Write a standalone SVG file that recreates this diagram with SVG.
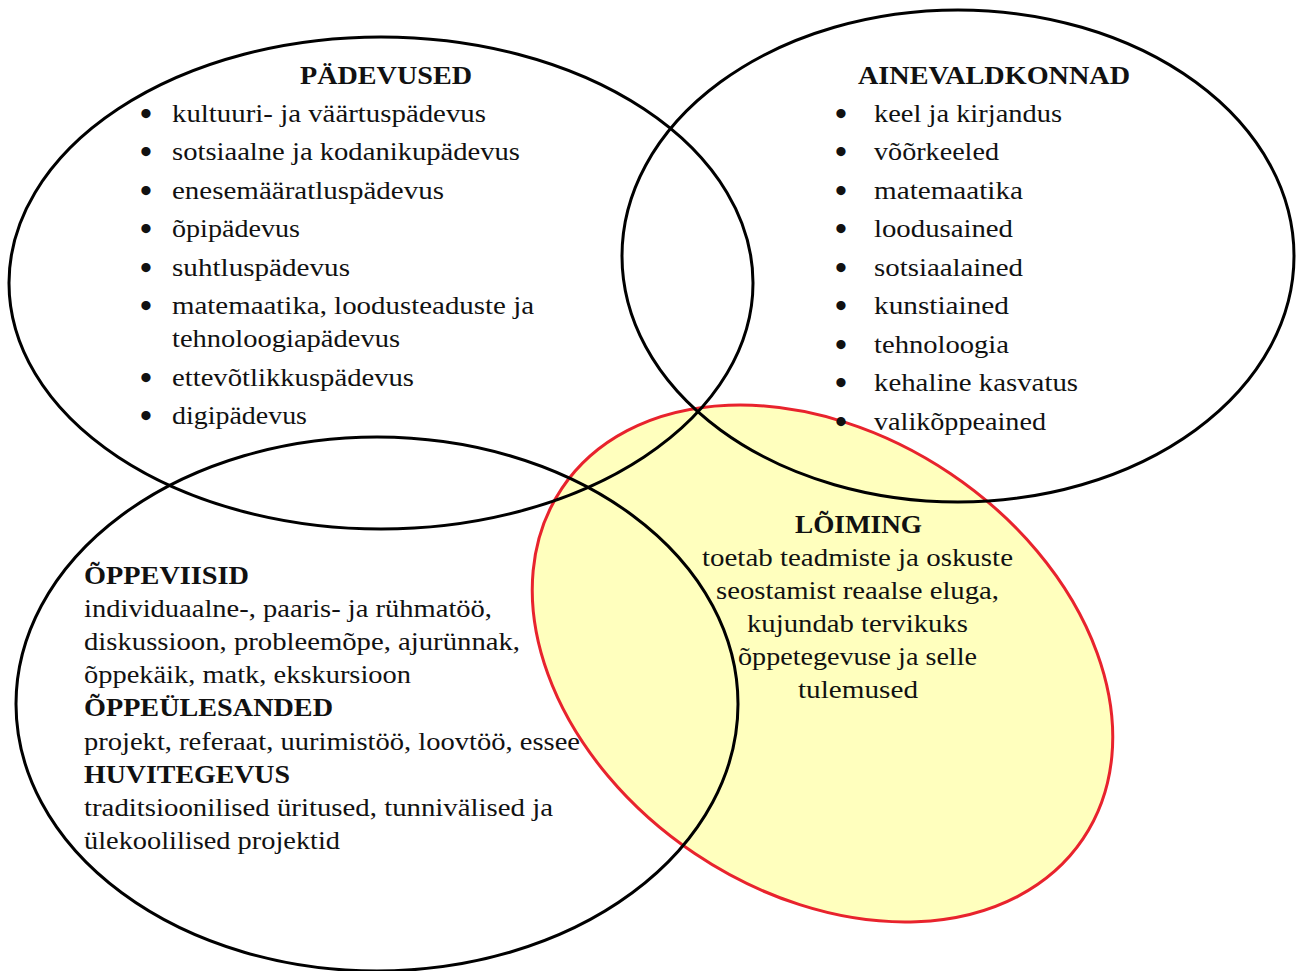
<svg xmlns="http://www.w3.org/2000/svg" width="1298" height="971" viewBox="0 0 1298 971">
<style>
.ring{fill:none;stroke:#000;stroke-width:3}
.t{font-family:"Liberation Serif","Times New Roman",serif;font-size:26px;fill:#111}
.h{font-family:"Liberation Serif","Times New Roman",serif;font-size:26px;font-weight:bold;fill:#111}
.b{font-family:"Liberation Serif","Times New Roman",serif;font-size:34px;font-weight:bold;fill:#111}
</style>
<rect width="1298" height="971" fill="#fff"/>
<g id="loiming">
<ellipse cx="822.5" cy="663.5" rx="314" ry="229" transform="rotate(33.9 822.5 663.5)" fill="#ffffbe" stroke="#e8232d" stroke-width="3"/>
</g>
<g id="padevused">
<ellipse class="ring" cx="381" cy="283" rx="372" ry="246"/>
</g>
<g id="ainevaldkonnad">
<ellipse class="ring" cx="958" cy="256" rx="336" ry="246"/>
</g>
<g id="oppeviisid">
<ellipse class="ring" cx="377" cy="704" rx="361" ry="267"/>
</g>
<g id="padevused-text">
<text class="h" x="300" y="84" textLength="172" lengthAdjust="spacingAndGlyphs">PÄDEVUSED</text>
<g class="b">
<text x="140" y="125">•</text>
<text x="140" y="163">•</text>
<text x="140" y="202">•</text>
<text x="140" y="240">•</text>
<text x="140" y="279">•</text>
<text x="140" y="317">•</text>
<text x="140" y="389">•</text>
<text x="140" y="427">•</text>
</g>
<g class="t">
<text x="172" y="122" textLength="314" lengthAdjust="spacingAndGlyphs">kultuuri- ja väärtuspädevus</text>
<text x="172" y="160" textLength="348" lengthAdjust="spacingAndGlyphs">sotsiaalne ja kodanikupädevus</text>
<text x="172" y="199" textLength="272" lengthAdjust="spacingAndGlyphs">enesemääratluspädevus</text>
<text x="172" y="237" textLength="128" lengthAdjust="spacingAndGlyphs">õpipädevus</text>
<text x="172" y="276" textLength="178" lengthAdjust="spacingAndGlyphs">suhtluspädevus</text>
<text x="172" y="314" textLength="362" lengthAdjust="spacingAndGlyphs">matemaatika, loodusteaduste ja</text>
<text x="172" y="347" textLength="228" lengthAdjust="spacingAndGlyphs">tehnoloogiapädevus</text>
<text x="172" y="386" textLength="242" lengthAdjust="spacingAndGlyphs">ettevõtlikkuspädevus</text>
<text x="172" y="424" textLength="135" lengthAdjust="spacingAndGlyphs">digipädevus</text>
</g>
</g>
<g id="ainevaldkonnad-text">
<text class="h" x="858" y="84" textLength="272" lengthAdjust="spacingAndGlyphs">AINEVALDKONNAD</text>
<g class="b">
<text x="835" y="125">•</text>
<text x="835" y="163">•</text>
<text x="835" y="202">•</text>
<text x="835" y="240">•</text>
<text x="835" y="279">•</text>
<text x="835" y="317">•</text>
<text x="835" y="356">•</text>
<text x="835" y="394">•</text>
<text x="835" y="433">•</text>
</g>
<g class="t">
<text x="874" y="122" textLength="188" lengthAdjust="spacingAndGlyphs">keel ja kirjandus</text>
<text x="874" y="160" textLength="125" lengthAdjust="spacingAndGlyphs">võõrkeeled</text>
<text x="874" y="199" textLength="149" lengthAdjust="spacingAndGlyphs">matemaatika</text>
<text x="874" y="237" textLength="139" lengthAdjust="spacingAndGlyphs">loodusained</text>
<text x="874" y="276" textLength="149" lengthAdjust="spacingAndGlyphs">sotsiaalained</text>
<text x="874" y="314" textLength="135" lengthAdjust="spacingAndGlyphs">kunstiained</text>
<text x="874" y="353" textLength="135" lengthAdjust="spacingAndGlyphs">tehnoloogia</text>
<text x="874" y="391" textLength="204" lengthAdjust="spacingAndGlyphs">kehaline kasvatus</text>
<text x="874" y="430" textLength="172" lengthAdjust="spacingAndGlyphs">valikõppeained</text>
</g>
</g>
<g id="oppeviisid-text">
<text class="h" x="84" y="584" textLength="165" lengthAdjust="spacingAndGlyphs">ÕPPEVIISID</text>
<g class="t">
<text x="84" y="617" textLength="408" lengthAdjust="spacingAndGlyphs">individuaalne-, paaris- ja rühmatöö,</text>
<text x="84" y="650" textLength="436" lengthAdjust="spacingAndGlyphs">diskussioon, probleemõpe, ajurünnak,</text>
<text x="84" y="683" textLength="327" lengthAdjust="spacingAndGlyphs">õppekäik, matk, ekskursioon</text>
</g>
<text class="h" x="84" y="716" textLength="249" lengthAdjust="spacingAndGlyphs">ÕPPEÜLESANDED</text>
<text class="t" x="84" y="750" textLength="496" lengthAdjust="spacingAndGlyphs">projekt, referaat, uurimistöö, loovtöö, essee</text>
<text class="h" x="84" y="783" textLength="206" lengthAdjust="spacingAndGlyphs">HUVITEGEVUS</text>
<g class="t">
<text x="84" y="816" textLength="469" lengthAdjust="spacingAndGlyphs">traditsioonilised üritused, tunnivälised ja</text>
<text x="84" y="849" textLength="256" lengthAdjust="spacingAndGlyphs">ülekoolilised projektid</text>
</g>
</g>
<g id="loiming-text">
<text class="h" x="795" y="533" textLength="127" lengthAdjust="spacingAndGlyphs">LÕIMING</text>
<g class="t">
<text x="702" y="566" textLength="311" lengthAdjust="spacingAndGlyphs">toetab teadmiste ja oskuste</text>
<text x="716" y="599" textLength="283" lengthAdjust="spacingAndGlyphs">seostamist reaalse eluga,</text>
<text x="747" y="632" textLength="221" lengthAdjust="spacingAndGlyphs">kujundab tervikuks</text>
<text x="738" y="665" textLength="239" lengthAdjust="spacingAndGlyphs">õppetegevuse ja selle</text>
<text x="798" y="698" textLength="120" lengthAdjust="spacingAndGlyphs">tulemused</text>
</g>
</g>
</svg>
